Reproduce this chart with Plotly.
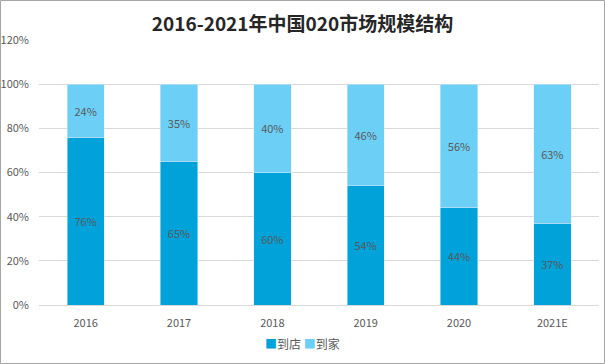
import plotly.graph_objects as go

years = ["2016", "2017", "2018", "2019", "2020", "2021E"]
store = [76, 65, 60, 54, 44, 37]
home = [24, 35, 40, 46, 56, 63]
store_labels = ["76%", "65%", "60%", "54%", "44%", "37%"]
home_labels = ["24%", "35%", "40%", "46%", "56%", "63%"]
y_ticks = [0, 20, 40, 60, 80, 100, 120]
y_tick_text = ["0%", "20%", "40%", "60%", "80%", "100%", "120%"]

FONT = "Noto Sans CJK SC, Open Sans, sans-serif"
C_STORE = "#00A2DA"
C_HOME = "#6CCFF6"

fig = go.Figure()
fig.add_trace(go.Bar(x=years, y=store, name="到店", marker_color=C_STORE,
                     text=store_labels, textposition="inside", insidetextanchor="middle",
                     textfont=dict(color="#595959", size=11), texttemplate="%{text}"))
fig.add_trace(go.Bar(x=years, y=home, name="到家", marker_color=C_HOME,
                     text=home_labels, textposition="inside", insidetextanchor="middle",
                     textfont=dict(color="#595959", size=11), texttemplate="%{text}"))

L, R, T, B = 39, 6, 40, 59
W, H = 605, 364
pw = W - L - R
ph = H - T - B

fig.update_layout(
    width=W, height=H,
    barmode="stack", bargap=0.6,
    margin=dict(l=L, r=R, t=T, b=B),
    plot_bgcolor="white", paper_bgcolor="white",
    font=dict(family=FONT, color="#595959", size=11),
    showlegend=False,
    title=dict(text="<b>2016-2021年中国020市场规模结构</b>", x=0.5, xanchor="center",
               y=1 - 24 / H, yanchor="middle",
               font=dict(size=19, color="#262626", family=FONT)),
    xaxis=dict(showgrid=False, showline=True, linecolor="#D9D9D9", ticks="",
               tickfont=dict(size=11, color="#595959"), ticklabelstandoff=8,
               automargin=False),
    yaxis=dict(range=[0, 120], tickvals=y_ticks, ticktext=y_tick_text,
               showgrid=True, gridcolor="#D9D9D9", zeroline=False,
               tickfont=dict(size=11, color="#595959"), ticklabelstandoff=9,
               automargin=False),
    uniformtext=dict(mode=False),
)
legend_text = (f"<span style='color:{C_STORE}'>■</span>到店 "
               f"<span style='color:{C_HOME}'>■</span>到家")
fig.add_annotation(text=legend_text, xref="paper", yref="paper",
                   x=(W / 2 - L) / pw, y=-(343 - 305) / ph, xanchor="center", yanchor="middle",
                   showarrow=False, font=dict(size=12, color="#595959", family=FONT))
fig.add_shape(type="rect", xref="paper", yref="paper",
              x0=(0.5 - L) / pw, x1=(W - 0.5 - L) / pw,
              y0=(H - T - B - (H - 0.5 - T)) / ph, y1=(H - T - B - (0.5 - T)) / ph,
              line=dict(color="#A6A6A6", width=1), fillcolor="rgba(0,0,0,0)")

fig.write_html("out.html", config={"displayModeBar": False},
               post_script="document.body.style.margin='0';document.body.style.padding='0';")
